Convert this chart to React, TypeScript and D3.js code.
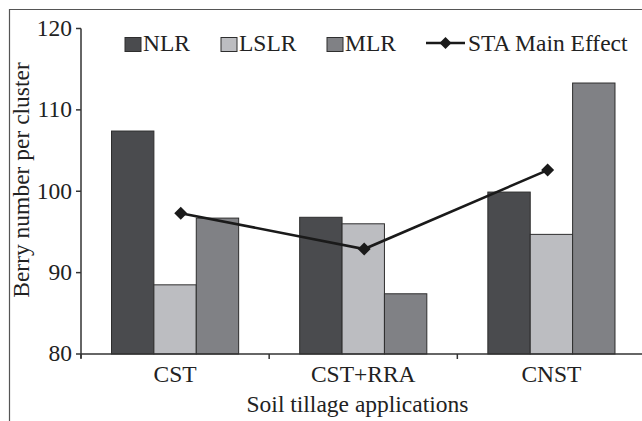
import React from "react";
import * as d3 from "d3";

const categories = ["CST", "CST+RRA", "CNST"];
const seriesNames = ["NLR", "LSLR", "MLR"];
const nlrValues = [107.4, 96.8, 99.9];
const lslrValues = [88.5, 96.0, 94.7];
const mlrValues = [96.7, 87.4, 113.3];
const staMainEffect = [97.3, 92.9, 102.6];
const yTicks = [80, 90, 100, 110, 120];
const lineName = "STA Main Effect";

const seriesValues = [nlrValues, lslrValues, mlrValues];
const seriesColors = ["#4a4b4e", "#bcbdc1", "#808185"];

const W = 642;
const H = 421;
const FONT = "'Liberation Serif', 'Times New Roman', serif";
const FS = 23.5;

export default function App() {
  const left = 81;
  const right = 645.5;
  const top = 28.5;
  const bottom = 354;

  const x = d3.scaleBand<string>().domain(categories).range([left, right]).padding(0);
  const bw = x.bandwidth();
  const xs = d3.scaleBand<string>().domain(seriesNames).range([0, bw]).paddingInner(0).paddingOuter(0.72);
  const y = d3.scaleLinear().domain([80, 120]).range([bottom, top]);
  const xl = d3
    .scalePoint<string>()
    .domain(categories)
    .range([(x(categories[0]) as number) + bw * 0.53, (x(categories[2]) as number) + bw * 0.48]);

  const line = d3
    .line<number>()
    .x((_, i) => xl(categories[i]) as number)
    .y((d) => y(d));

  const tickXs = [left, ...categories.slice(1).map((c) => x(c) as number)];

  const diamond = (cx: number, cy: number, r: number) =>
    `M${cx},${cy - r}L${cx + r},${cy}L${cx},${cy + r}L${cx - r},${cy}Z`;

  const legendSwatchX = [125, 221, 327];
  const legendLineX = [426, 465];
  const legendTextBase = 51;

  return (
    <svg
      width={W}
      height={H}
      style={{ position: "absolute", left: 0, top: 0, background: "#fff" }}
      fontFamily={FONT}
    >
      <rect x={0} y={0} width={W} height={H} fill="#fff" />
      {/* frame */}
      <line x1={9} y1={9.5} x2={W} y2={9.5} stroke="#555" strokeWidth={1.2} />
      <line x1={9.5} y1={9} x2={9.5} y2={H} stroke="#555" strokeWidth={1.2} />

      {/* bars */}
      {categories.map((c, ci) => (
        <g key={c} transform={`translate(${x(c)},0)`}>
          {seriesNames.map((s, si) => {
            const v = seriesValues[si][ci];
            return (
              <rect
                key={s}
                x={xs(s)}
                y={y(v)}
                width={xs.bandwidth()}
                height={y(80) - y(v)}
                fill={seriesColors[si]}
                stroke="#2e2e2e"
                strokeWidth={1}
              />
            );
          })}
        </g>
      ))}

      {/* axes */}
      <line x1={left} y1={top} x2={left} y2={bottom + 4} stroke="#333" strokeWidth={1.5} />
      <line x1={left} y1={bottom} x2={W} y2={bottom} stroke="#333" strokeWidth={1.5} />
      {yTicks.map((t) => (
        <g key={t}>
          <line x1={left - 5} x2={left} y1={y(t)} y2={y(t)} stroke="#333" strokeWidth={1.5} />
          <text x={left - 9} y={y(t)} dy="0.31em" textAnchor="end" fontSize={FS} fill="#222">
            {t}
          </text>
        </g>
      ))}
      {tickXs.map((tx, i) => (
        <line key={i} x1={tx} x2={tx} y1={bottom} y2={bottom + 5} stroke="#333" strokeWidth={1.5} />
      ))}
      {categories.map((c) => (
        <text
          key={c}
          x={(x(c) as number) + bw / 2}
          y={bottom + 28}
          textAnchor="middle"
          fontSize={FS}
          fill="#222"
        >
          {c}
        </text>
      ))}

      {/* line series */}
      <path d={line(staMainEffect) || ""} fill="none" stroke="#1a1a1a" strokeWidth={2.6} />
      {staMainEffect.map((v, i) => (
        <path key={i} d={diamond(xl(categories[i]) as number, y(v), 6.5)} fill="#1a1a1a" />
      ))}

      {/* titles */}
      <text x={357.5} y={412} textAnchor="middle" fontSize={FS} fill="#222">
        Soil tillage applications
      </text>
      <text
        transform={`translate(29,180) rotate(-90)`}
        textAnchor="middle"
        fontSize={FS}
        fill="#222"
      >
        Berry number per cluster
      </text>

      {/* legend */}
      {seriesNames.map((s, i) => (
        <g key={s}>
          <rect
            x={legendSwatchX[i]}
            y={37.5}
            width={16}
            height={14}
            fill={seriesColors[i]}
            stroke="#2e2e2e"
            strokeWidth={1}
          />
          <text x={legendSwatchX[i] + 18} y={legendTextBase} fontSize={FS} fill="#222">
            {s}
          </text>
        </g>
      ))}
      <line
        x1={legendLineX[0]}
        x2={legendLineX[1]}
        y1={43}
        y2={43}
        stroke="#1a1a1a"
        strokeWidth={2.6}
      />
      <path d={diamond((legendLineX[0] + legendLineX[1]) / 2, 43, 6)} fill="#1a1a1a" />
      <text x={legendLineX[1] + 3} y={legendTextBase} fontSize={FS} fill="#222">
        {lineName}
      </text>
    </svg>
  );
}
